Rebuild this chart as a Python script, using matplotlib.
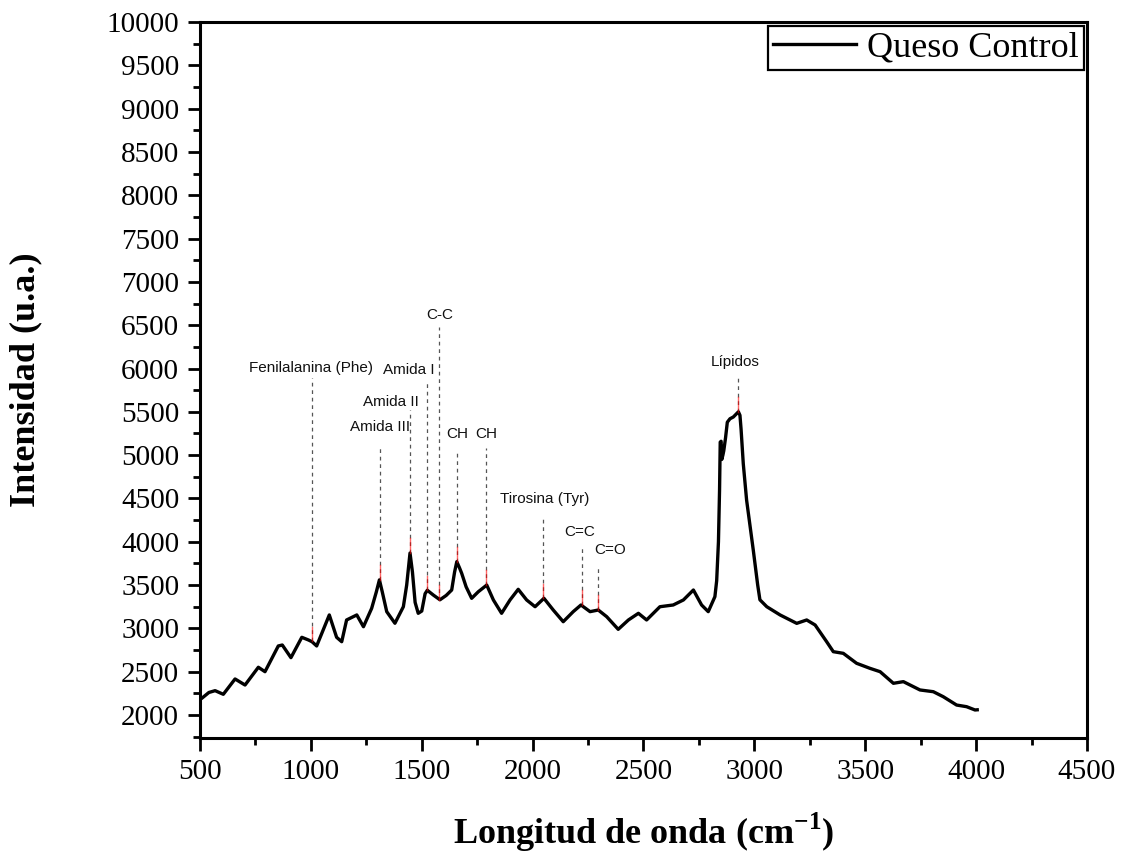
import matplotlib.pyplot as plt
from matplotlib.ticker import MultipleLocator

plt.rcParams['font.family'] = ['Liberation Serif', 'DejaVu Serif']
plt.rcParams['mathtext.fontset'] = 'custom'
plt.rcParams['mathtext.rm'] = 'Liberation Serif'
plt.rcParams['mathtext.bf'] = 'Liberation Serif:bold'

# Raman spectrum
wavenumber = [500, 508, 540, 568, 605, 658, 703, 763, 793, 853, 871, 910, 959, 989,
              1005, 1026, 1083, 1116, 1139, 1161, 1207, 1237, 1274, 1295, 1309, 1322,
              1342, 1379, 1417, 1432, 1447, 1458, 1470, 1484, 1500, 1515, 1525, 1552,
              1582, 1610, 1635, 1648, 1658, 1670, 1680, 1700, 1725, 1755, 1793, 1823,
              1860, 1898, 1935, 1973, 2011, 2051, 2093, 2138, 2183, 2218, 2259, 2296,
              2334, 2386, 2432, 2477, 2514, 2574, 2634, 2680, 2725, 2762, 2792, 2822,
              2830, 2838, 2843, 2846, 2850, 2853, 2858, 2862, 2870, 2878, 2890, 2905,
              2928, 2935, 2940, 2950, 2965, 2995, 3015, 3025, 3056, 3116, 3191, 3236,
              3274, 3326, 3356, 3401, 3461, 3521, 3567, 3627, 3672, 3747, 3807, 3852,
              3912, 3957, 3995, 4005]
intensity = [2180, 2193, 2260, 2281, 2239, 2416, 2346, 2551, 2500, 2797, 2808, 2662, 2897, 2866,
             2846, 2797, 3155, 2897, 2846, 3097, 3155, 3019, 3231, 3420, 3560, 3420,
             3193, 3059, 3250, 3500, 3870, 3650, 3300, 3174, 3200, 3400, 3440, 3385,
             3330, 3380, 3443, 3650, 3770, 3700, 3636, 3480, 3347, 3423, 3500, 3328,
             3174, 3328, 3451, 3328, 3250, 3347, 3212, 3077, 3193, 3270, 3193, 3212,
             3135, 2989, 3097, 3174, 3097, 3250, 3270, 3328, 3443, 3270, 3193, 3366,
             3550, 4000, 4600, 5150, 5160, 4950, 5000, 5050, 5200, 5380, 5420, 5440,
             5500, 5460, 5300, 4900, 4480, 3905, 3500, 3330, 3250, 3155, 3058, 3097,
             3039, 2846, 2731, 2712, 2597, 2539, 2500, 2366, 2385, 2289, 2269, 2211,
             2115, 2096, 2058, 2060]

# band assignments
band_labels = ['Fenilalanina (Phe)', 'Amida III', 'Amida II', 'Amida I', 'C-C', 'CH', 'CH',
               'Tirosina (Tyr)', 'C=C', 'C=O', 'Lípidos']
band_x = [1005, 1312, 1447, 1525, 1579, 1658, 1790, 2048, 2221, 2296, 2926]
band_y = [2850, 3560, 3870, 3440, 3330, 3770, 3500, 3347, 3270, 3212, 5500]
line_top = [5891, 5117, 5521, 5833, 6479, 5059, 5083, 4286, 3928, 3732, 5925]
label_x = [1000, 1314, 1361, 1443, 1582, 1659, 1790, 2056, 2210, 2349, 2913]
label_y = [6006, 5325, 5614, 5983, 6618, 5244, 5244, 4494, 4113, 3905, 6075]

fig = plt.figure(figsize=(11.25, 8.56), dpi=100)
ax = fig.add_axes([0.1778, 0.1379, 0.7884, 0.8364])

ax.plot(wavenumber, intensity, color='black', lw=2.4, label='Queso Control', zorder=3)

for lab, bx, by, top, tx, ty in zip(band_labels, band_x, band_y, line_top, label_x, label_y):
    ax.plot([bx, bx], [by, top], color='#555555', lw=0.9, ls=(0, (3, 3)), zorder=2)
    ax.plot([bx, bx], [by, by + 170], color='red', lw=1.0, alpha=0.6, zorder=4)
    ax.text(tx, ty, lab, ha='center', va='center', fontsize=11,
            family=['Liberation Sans Narrow', 'Liberation Sans'], color='#111111')

ax.set_xlim(500, 4500)
ax.set_ylim(1735, 10000)
ax.xaxis.set_major_locator(MultipleLocator(500))
ax.xaxis.set_minor_locator(MultipleLocator(250))
ax.yaxis.set_major_locator(MultipleLocator(500))
ax.yaxis.set_minor_locator(MultipleLocator(250))
ax.tick_params(which='major', direction='out', length=9, width=2, labelsize=21, pad=6)
ax.tick_params(which='minor', direction='out', length=5, width=2)
ax.tick_params(top=False, right=False)
for s in ax.spines.values():
    s.set_linewidth(2.2)

ax.set_xlabel(r'Longitud de onda (cm$^{\mathbf{-1}}$)', fontsize=26, fontweight='bold', labelpad=19)
ax.set_ylabel('Intensidad (u.a.)', fontsize=26, fontweight='bold', labelpad=46)

leg = ax.legend(loc='upper right', bbox_to_anchor=(0.997, 0.994), fontsize=26, frameon=True,
                fancybox=False, handlelength=2.3, handletextpad=0.3, borderpad=0.15,
                borderaxespad=0.0)
leg.get_frame().set_edgecolor('black')
leg.get_frame().set_linewidth(1.6)
leg.get_frame().set_alpha(1)

plt.savefig('out.png', dpi=100)
